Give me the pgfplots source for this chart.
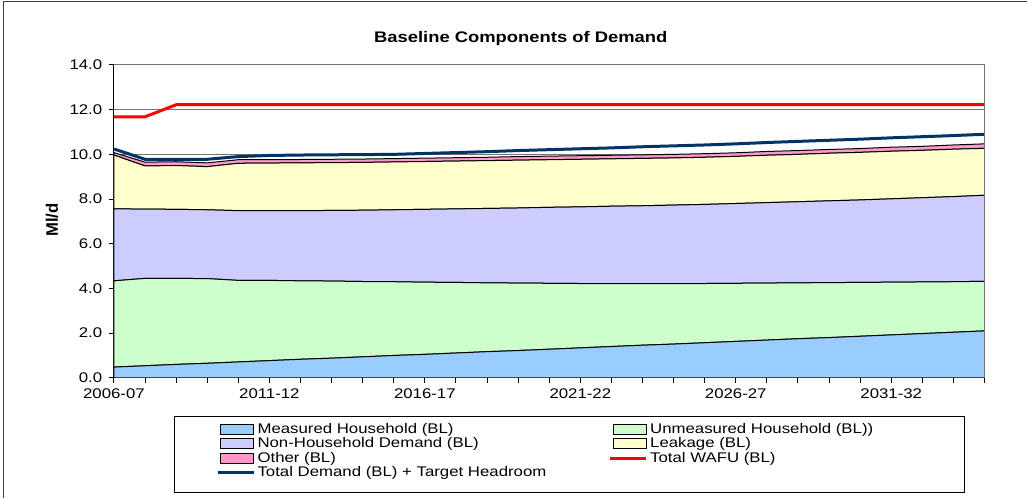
\documentclass[border=0pt]{standalone}
\usepackage{fontspec}
\setmainfont{Liberation Sans}[FakeStretch=1.2]
\newfontfamily\plainsans{Liberation Sans}
\usepackage{pgfplots}
\usepackage{pgfplotstable}
\pgfplotsset{compat=1.18}

\definecolor{measured}{RGB}{153,204,255}
\definecolor{unmeasured}{RGB}{204,255,204}
\definecolor{nonhh}{RGB}{204,204,255}
\definecolor{leakage}{RGB}{255,255,204}
\definecolor{other}{RGB}{255,153,204}
\definecolor{wafu}{RGB}{255,0,0}
\definecolor{totaldem}{RGB}{0,51,102}

\pgfplotsset{
  areaimg/.style={legend image code/.code={\draw[##1] (0pt,-3.75pt) rectangle (24.5pt,3.75pt);}},
  lineimg/.style={legend image code/.code={\draw[##1] (-2.5pt,0pt) -- (24.5pt,0pt);}},
}

% index 0 = 2006-07 ... 28 = 2034-35
\pgfplotstableread{
x  meas unmeas nonhh leak other wafu  total
0  0.48 3.86   3.22  2.41 0.11  11.68 10.24
1  0.54 3.91   3.10  1.93 0.17  11.68 9.78
2  0.60 3.85   3.09  1.96 0.17  12.22 9.78
3  0.65 3.79   3.08  1.93 0.17  12.22 9.78
4  0.71 3.65   3.12  2.12 0.16  12.22 9.90
5  0.77 3.59   3.12  2.13 0.15  12.22 9.95
6  0.83 3.51   3.14  2.14 0.15  12.22 9.97
7  0.88 3.45   3.16  2.14 0.15  12.22 9.98
8  0.94 3.37   3.19  2.14 0.15  12.22 9.99
9  1.00 3.30   3.22  2.14 0.15  12.22 10.00
10 1.05 3.23   3.26  2.14 0.15  12.22 10.04
11 1.11 3.16   3.29  2.14 0.15  12.22 10.08
12 1.17 3.08   3.33  2.14 0.15  12.22 10.12
13 1.22 3.02   3.36  2.14 0.16  12.22 10.17
14 1.28 2.95   3.40  2.13 0.16  12.22 10.21
15 1.34 2.88   3.43  2.13 0.16  12.22 10.25
16 1.40 2.82   3.46  2.12 0.16  12.22 10.29
17 1.46 2.76   3.48  2.12 0.16  12.22 10.34
18 1.51 2.71   3.51  2.11 0.16  12.22 10.38
19 1.57 2.65   3.54  2.11 0.16  12.22 10.42
20 1.63 2.60   3.57  2.11 0.16  12.22 10.47
21 1.69 2.55   3.60  2.12 0.17  12.22 10.53
22 1.75 2.50   3.63  2.12 0.17  12.22 10.58
23 1.80 2.46   3.66  2.13 0.17  12.22 10.63
24 1.86 2.41   3.69  2.13 0.17  12.22 10.68
25 1.92 2.36   3.73  2.13 0.18  12.22 10.74
26 1.98 2.31   3.77  2.12 0.18  12.22 10.79
27 2.04 2.26   3.81  2.12 0.19  12.22 10.84
28 2.10 2.22   3.85  2.10 0.20  12.22 10.90
}\demand

\begin{document}
\begin{tikzpicture}
\begin{axis}[
  scale only axis,
  width=653.25pt, height=234.75pt,
  xmin=0, xmax=28, ymin=0, ymax=14,
  stack plots=y,
  axis x line*=bottom, axis y line*=left,
  axis line style={-, black, line width=0.75pt},
  xtick={0,5,10,15,20,25},
  xticklabels={2006-07,2011-12,2016-17,2021-22,2026-27,2031-32},
  minor xtick={0,1,...,28},
  ytick={0,2,...,14},
  tick align=outside,
  major tick length=3.75pt, minor tick length=3.75pt,
  tick style={black, line width=0.75pt},
  ymajorgrids,
  grid style={black!55, line width=0.75pt},
  yticklabel style={xshift=-1.5pt, /pgf/number format/.cd, fixed, fixed zerofill, precision=1, assume math mode=true},
  ticklabel style={font=\fontsize{10.5}{12}\selectfont},
  xticklabel style={yshift=-1pt},
  legend columns=2,
  legend cell align=left,
  legend style={at={(axis description cs:0.1125,-0.1342)}, anchor=north west,
    draw=none, fill=none, font=\fontsize{10.5}{12}\selectfont,
    row sep=0.4pt,
    nodes={inner sep=0.6pt},
    /tikz/every odd column/.append style={column sep=1.2pt}},
]
\addplot[fill=measured, draw=black, line width=0.75pt, areaimg] table[x=x,y=meas] {\demand} \closedcycle;
\addlegendentry{\makebox[263pt][l]{Measured Household (BL)}}
\addplot[fill=unmeasured, draw=black, line width=0.75pt, areaimg] table[x=x,y=unmeas] {\demand} \closedcycle;
\addlegendentry{Unmeasured Household (BL))}
\addplot[fill=nonhh, draw=black, line width=0.75pt, areaimg] table[x=x,y=nonhh] {\demand} \closedcycle;
\addlegendentry{\makebox[263pt][l]{Non-Household Demand (BL)}}
\addplot[fill=leakage, draw=black, line width=0.75pt, areaimg] table[x=x,y=leak] {\demand} \closedcycle;
\addlegendentry{Leakage (BL)}
\addplot[fill=other, draw=black, line width=0.75pt, areaimg] table[x=x,y=other] {\demand} \closedcycle;
\addlegendentry{\makebox[263pt][l]{Other (BL)}}
\addplot[stack plots=false, draw=wafu, line width=2.25pt, lineimg] table[x=x,y=wafu] {\demand};
\addlegendentry{Total WAFU (BL)}
\addplot[stack plots=false, draw=totaldem, line width=2.25pt, lineimg] table[x=x,y=total] {\demand};
\addlegendentry{Total Demand (BL) + Target Headroom}
\end{axis}
% plot area right edge
\draw[black!55, line width=0.75pt] (653.25pt,0pt) -- (653.25pt,234.75pt);
% chart area border and page extent
\path (-85.5pt,-90pt) rectangle (684.75pt,283.5pt);
\draw[black!75, line width=0.75pt] (-82.5pt,-90pt) -- (-82.5pt,282pt) -- (684.75pt,282pt);
% legend frame
\draw[black, line width=0.75pt] (45.75pt,-29.25pt) rectangle (638.25pt,-86.25pt);
% title and y label
\node[font=\bfseries\fontsize{11.5}{14}\selectfont] at (305.25pt,254.25pt) {Baseline Components of Demand};
\node[font=\plainsans\bfseries\fontsize{12.5}{14}\selectfont, rotate=90] at (-46.5pt,118.5pt) {Ml/d};
\end{tikzpicture}
\end{document}
